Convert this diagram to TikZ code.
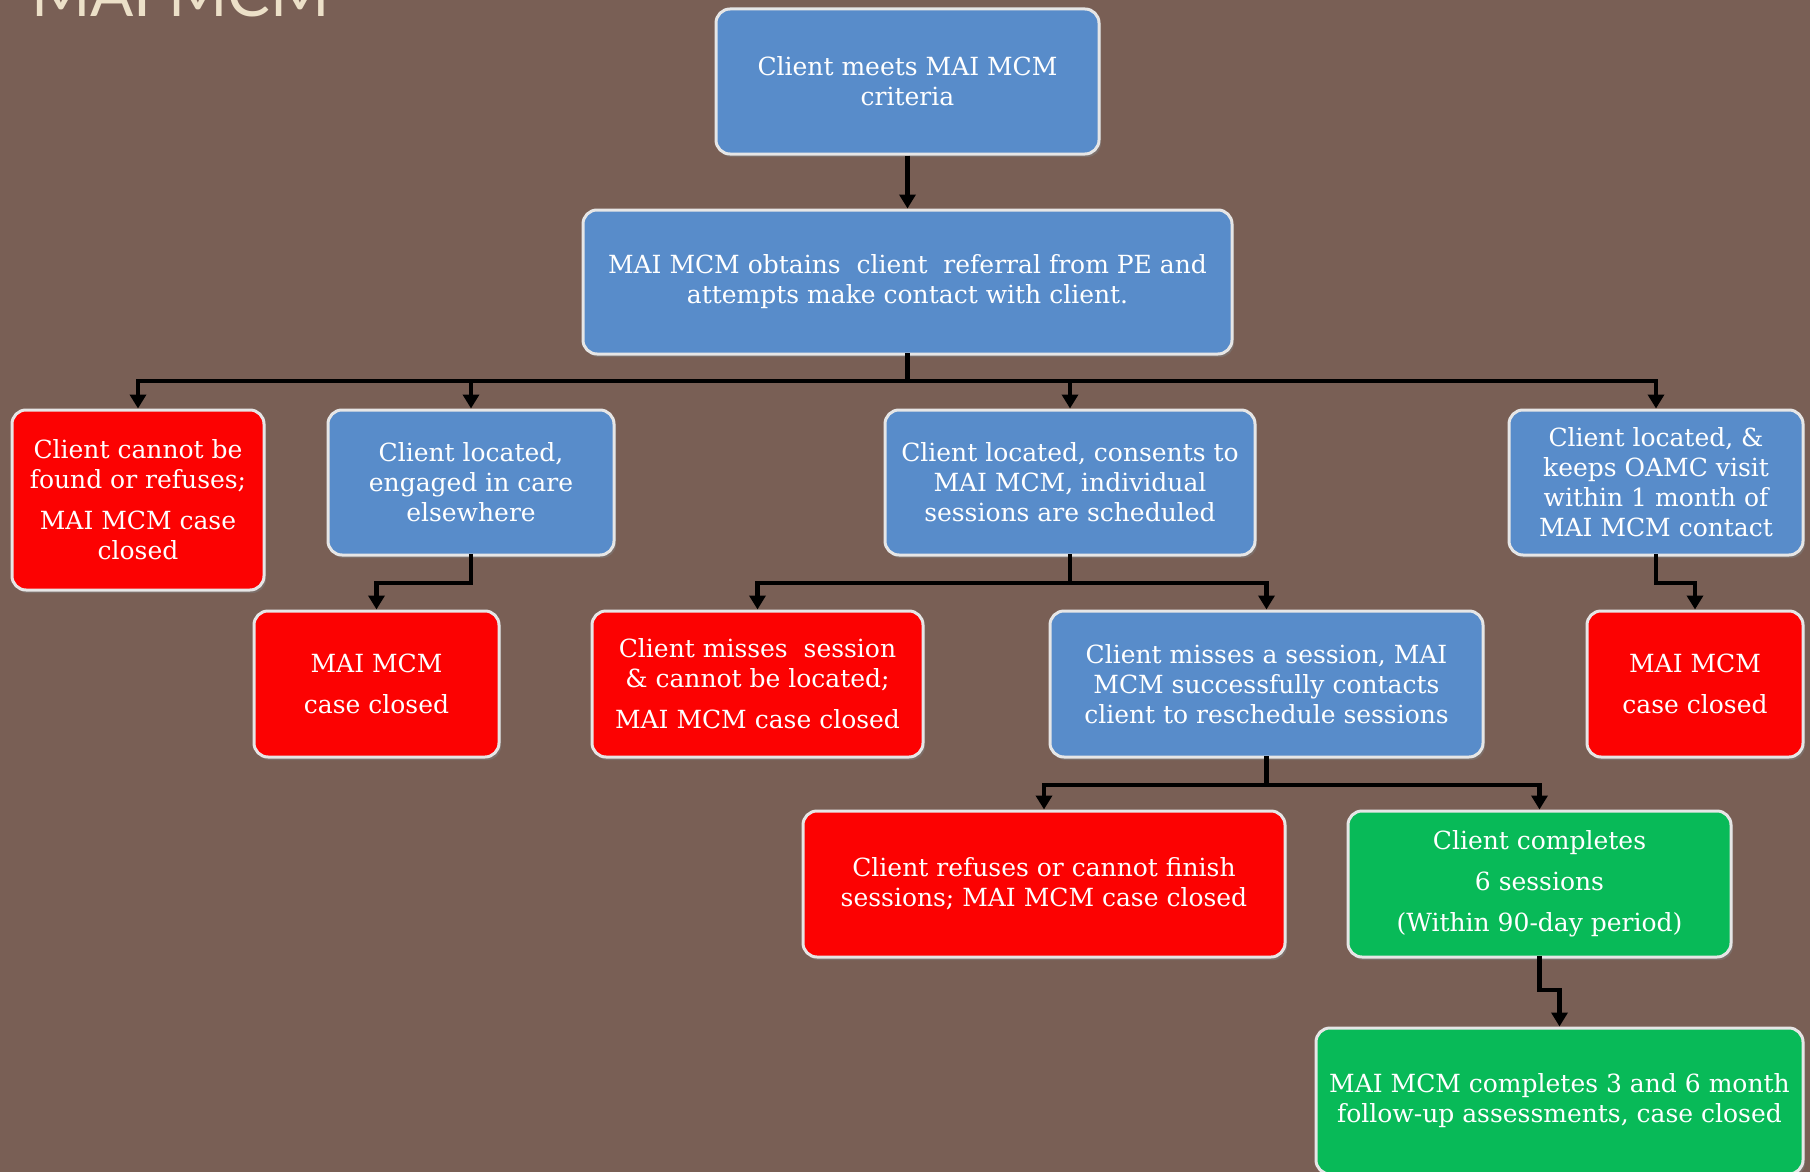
\documentclass[tikz,border=0pt]{standalone}
\usepackage{fontspec}
\setmainfont{DejaVu Serif}
\newfontfamily\titlefont{Lato}
\usetikzlibrary{arrows.meta,shadows}
\definecolor{bg}{RGB}{121,95,85}
\definecolor{boxblue}{RGB}{88,140,202}
\definecolor{boxred}{RGB}{252,2,2}
\definecolor{boxgreen}{RGB}{8,186,88}
\definecolor{rim}{RGB}{230,230,230}
\definecolor{titlecol}{RGB}{236,224,200}

\begin{document}
\begin{tikzpicture}[x=1pt,y=-1pt]
\tikzstyle{box}=[draw=rim,line width=3pt,rounded corners=14pt,text=white,align=center,inner sep=0pt,
  font=\fontsize{25}{30}\selectfont,drop shadow={shadow xshift=2pt,shadow yshift=-3pt,opacity=0.5}]
\tikzstyle{bluebox}=[box,fill=boxblue]
\tikzstyle{redbox}=[box,fill=boxred]
\tikzstyle{greenbox}=[box,fill=boxgreen]
\tikzstyle{bar}=[draw=black,line width=4.5pt,line cap=rect]
\tikzstyle{conn}=[draw=black,line width=4.5pt,-{Triangle[width=16pt,length=14pt]}]
\useasboundingbox (0,0) rectangle (1810,1172);
\clip (0,0) rectangle (1810,1172);
\fill[bg] (0,0) rectangle (1810,1172);
\node[anchor=base west,inner sep=0pt,text=titlecol,font=\titlefont\fontsize{64}{64}\selectfont] (title) at (31,17) {MAI MCM};
% level 1 and 2
\node[bluebox,minimum width=383pt,minimum height=145pt] (crit) at (907.5,81.5) {Client meets MAI MCM\\criteria};
\node[bluebox,minimum width=649pt,minimum height=144pt] (refer) at (907.5,282) {MAI MCM obtains\ \ client\ \ referral from PE and\\attempts make contact with client.};
% level 3
\node[redbox,minimum width=252pt,minimum height=180pt] (notfound) at (138,500) {Client cannot be\\found or refuses;\\[11pt]MAI MCM case\\closed};
\node[bluebox,minimum width=286pt,minimum height=145pt] (elsewhere) at (471,482.5) {Client located,\\engaged in care\\elsewhere};
\node[bluebox,minimum width=370pt,minimum height=145pt] (consent) at (1070,482.5) {Client located, consents to\\MAI MCM, individual\\sessions are scheduled};
\node[bluebox,minimum width=294pt,minimum height=145pt] (oamc) at (1656,482.5) {Client located, \&\\keeps OAMC visit\\within 1 month of\\MAI MCM contact};
% level 4
\node[redbox,minimum width=245pt,minimum height=146pt] (closedA) at (376.5,684) {MAI MCM\\[11pt]case closed};
\node[redbox,minimum width=331pt,minimum height=146pt] (missed) at (757.5,684) {Client misses\ \ session\\\& cannot be located;\\[11pt]MAI MCM case closed};
\node[bluebox,minimum width=433pt,minimum height=146pt] (resched) at (1266.5,684) {Client misses a session, MAI\\MCM successfully contacts\\client to reschedule sessions};
\node[redbox,minimum width=216pt,minimum height=146pt] (closedB) at (1695,684) {MAI MCM\\[11pt]case closed};
% level 5 and 6
\node[redbox,minimum width=482pt,minimum height=146pt] (refuse) at (1044,884) {Client refuses or cannot finish\\sessions; MAI MCM case closed};
\node[greenbox,minimum width=383pt,minimum height=146pt] (complete) at (1539.5,884) {Client completes\\[11pt]6 sessions\\[11pt](Within 90-day period)};
\node[greenbox,minimum width=487pt,minimum height=146pt] (followup) at (1559.5,1101) {MAI MCM completes 3 and 6 month\\follow-up assessments, case closed};
% connectors
\coordinate (j1) at (907.5,381);
\coordinate (j2) at (471,583);
\coordinate (j3) at (1070,583);
\coordinate (j4) at (1656,583);
\coordinate (j5) at (1266.5,785);
\coordinate (j6) at (1539.5,990);
\draw[conn] (crit) -- (refer);
\draw[bar] (refer) -- (j1);
\draw[conn] (j1) -| (notfound);
\draw[conn] (j1) -| (elsewhere);
\draw[conn] (j1) -| (consent);
\draw[conn] (j1) -| (oamc);
\draw[bar] (elsewhere) -- (j2);
\draw[conn] (j2) -| (closedA);
\draw[bar] (consent) -- (j3);
\draw[conn] (j3) -| (missed);
\draw[conn] (j3) -| (resched);
\draw[bar] (oamc) -- (j4);
\draw[conn] (j4) -| (closedB);
\draw[bar] (resched) -- (j5);
\draw[conn] (j5) -| (refuse);
\draw[conn] (j5) -| (complete);
\draw[bar] (complete) -- (j6);
\draw[conn] (j6) -| (followup);
\end{tikzpicture}
\end{document}
